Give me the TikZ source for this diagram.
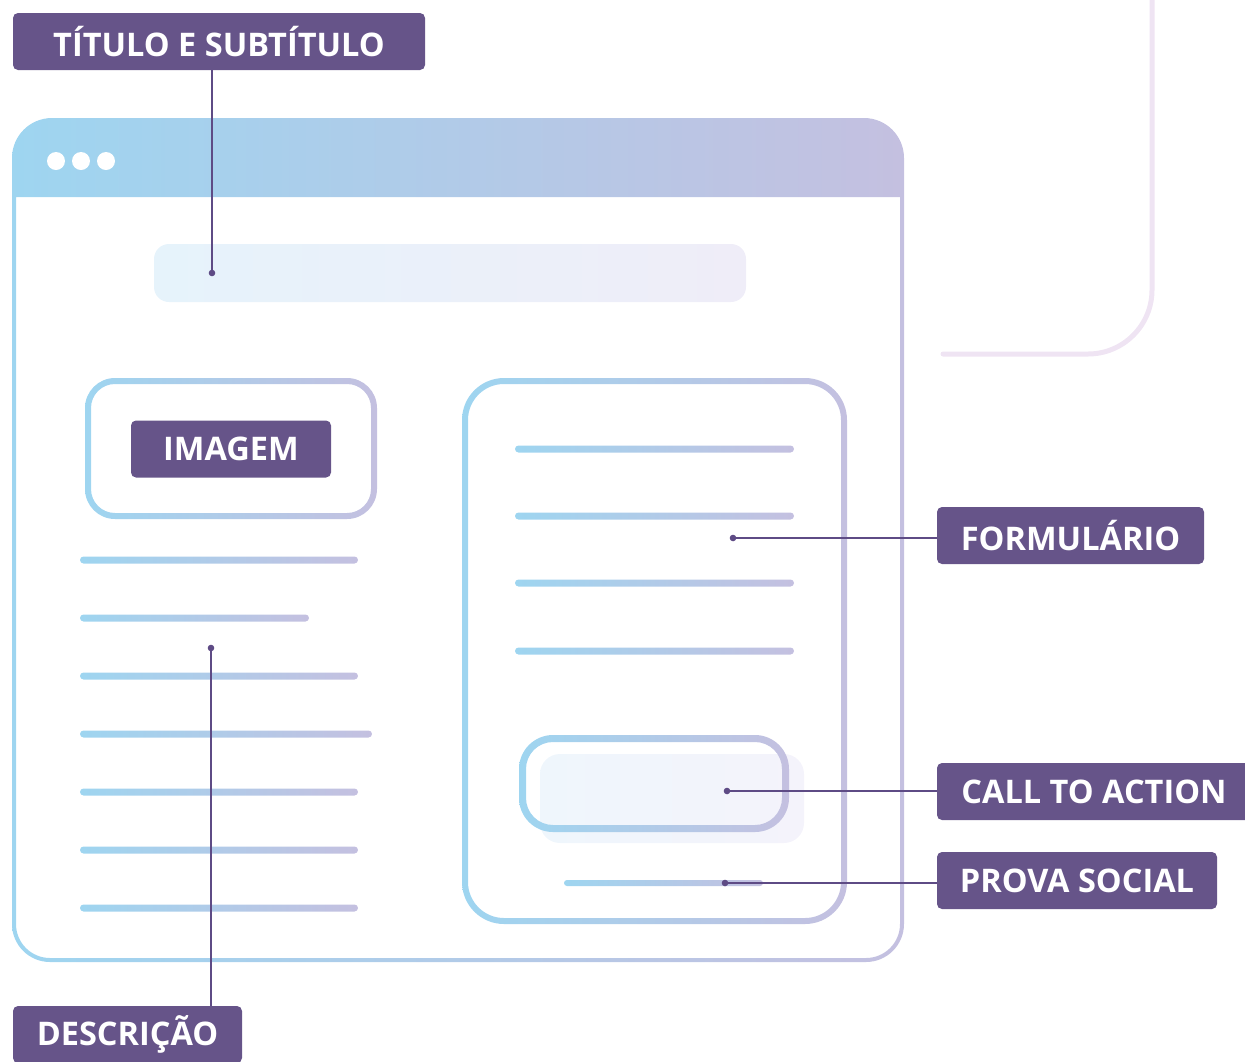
\documentclass[tikz,border=0pt]{standalone}
\usepackage{fontspec}
\setmainfont{Open Sans}
\definecolor{gblue}{HTML}{9ED5F0}
\definecolor{glav}{HTML}{C4C0E0}
\definecolor{tagpurple}{HTML}{665489}
\definecolor{wirepurple}{HTML}{5E4B85}
\definecolor{paleblue}{HTML}{E6F3FB}
\definecolor{palelav}{HTML}{EFEDF8}
\definecolor{ctablue}{HTML}{EFF6FC}
\definecolor{ctalav}{HTML}{F4F3FB}
\definecolor{deco}{HTML}{EFE4F3}
% horizontal gradient bar with round ends
\newcommand{\gradbar}[4]{%
  \shade[grad, rounded corners=#4/2] (#1,#3-#4/2) rectangle (#2,#3+#4/2);}
\begin{document}
\begin{tikzpicture}[x=1pt,y=-1pt,
  grad/.style={left color=gblue, right color=glav},
  tag/.style={fill=tagpurple, text=white, rounded corners=5pt,
    minimum height=57pt, inner sep=0pt,
    font=\fontsize{32.5}{36}\selectfont\bfseries},
  wire/.style={draw=wirepurple, line width=2pt},
  pin/.style={fill=wirepurple}]
\useasboundingbox (0,0) rectangle (1245,1061);

% decorative corner line, top right
\draw[deco, line width=5pt, line cap=round]
  (1152,-5) -- (1152,290) arc[start angle=0, end angle=90, radius=64] -- (943,354);

% browser window: header and frame
\shade[grad, even odd rule]
  (12,158) arc[start angle=180, end angle=270, radius=40] -- (864,118)
  arc[start angle=270, end angle=360, radius=40] -- (904,924)
  arc[start angle=0, end angle=90, radius=38] -- (50,962)
  arc[start angle=90, end angle=180, radius=38] -- cycle
  (16,197) -- (900,197) -- (900,924)
  arc[start angle=0, end angle=90, radius=34] -- (50,958)
  arc[start angle=90, end angle=180, radius=34] -- cycle;
\foreach \cx in {56,81,106} \fill[white] (\cx,161) circle (9);

% title placeholder
\shade[left color=paleblue, right color=palelav, rounded corners=15pt]
  (154,244) rectangle (746,302);

% image frame
\shade[grad, even odd rule]
  [rounded corners=30pt] (85,378) rectangle (377,519)
  [rounded corners=24pt] (91,384) rectangle (371,513);

% description lines
\gradbar{80}{358}{560}{7}
\gradbar{80}{309}{618}{7}
\gradbar{80}{358}{676}{7}
\gradbar{80}{372}{734}{7}
\gradbar{80}{358}{792}{7}
\gradbar{80}{358}{850}{7}
\gradbar{80}{358}{908}{7}

% form frame
\shade[grad, even odd rule]
  [rounded corners=42pt] (462,378) rectangle (847,924)
  [rounded corners=36pt] (468,384) rectangle (841,918);
\gradbar{515}{794}{449}{7}
\gradbar{515}{794}{516}{7}
\gradbar{515}{794}{583}{7}
\gradbar{515}{794}{651}{7}

% call-to-action button
\shade[left color=ctablue, right color=ctalav, rounded corners=20pt]
  (540,754) rectangle (804,843);
\shade[grad, even odd rule]
  [rounded corners=34pt] (519,735) rectangle (789,832)
  [rounded corners=27pt] (526,742) rectangle (782,825);
\gradbar{564}{763}{883}{6}

% labels
\node[tag, minimum width=412pt] (ttl) at (219,41.5) {TÍTULO E SUBTÍTULO};
\node[tag, minimum width=200pt] (img) at (231,449) {IMAGEM};
\node[tag, minimum width=267pt] (frm) at (1070.5,535.5) {FORMULÁRIO};
\node[tag, minimum width=314pt] (cta) at (1094,791.5) {CALL TO ACTION};
\node[tag, minimum width=280pt] (soc) at (1077,880.5) {PROVA SOCIAL};
\node[tag, minimum width=229pt] (dsc) at (127.5,1034.5) {DESCRIÇÃO};

% connector anchors
\coordinate (pT) at (212,273);
\coordinate (pD) at (211,648);
\coordinate (pF) at (733,538);
\coordinate (pC) at (727,791);
\coordinate (pS) at (725,883);

% connectors
\draw[wire] (pT) -- (pT |- ttl.south);
\draw[wire] (pD) -- (pD |- dsc.north);
\draw[wire] (pF) -- (pF -| frm.west);
\draw[wire] (pC) -- (pC -| cta.west);
\draw[wire] (pS) -- (pS -| soc.west);
\foreach \p in {pT,pD,pF,pC,pS} \fill[pin] (\p) circle (3.3);
\end{tikzpicture}
\end{document}
